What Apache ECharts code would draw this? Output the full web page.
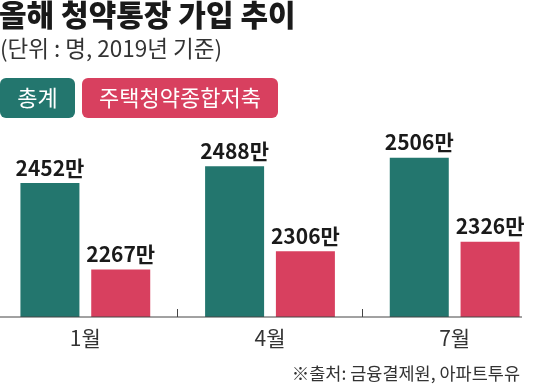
<!DOCTYPE html>
<html>
<head>
<meta charset="utf-8">
<script src="https://cdn.jsdelivr.net/npm/echarts@6/dist/echarts.min.js"></script>
<style>
html,body{margin:0;padding:0;background:#fff;}
#chart{width:540px;height:385px;}
</style>
</head>
<body>
<div id="chart"></div>
<script>
const titleText = '올해 청약통장 가입 추이';
const subtitleText = '(단위 : 명, 2019년 기준)';
const sourceText = '※출처: 금융결제원, 아파트투유';
const categories = ['1월', '4월', '7월'];
const seriesNames = ['총계', '주택청약종합저축'];
const totalValues = [2452, 2488, 2506];
const savingsValues = [2267, 2306, 2326];
const valueSuffix = '만';

const TEAL = '#23766e';
const PINK = '#d8405f';
const CJK = "'Noto Sans CJK KR', 'Noto Sans', sans-serif";

const chart = echarts.init(document.getElementById('chart'), null, {renderer: 'canvas'});

const labelOpt = {
  show: true,
  position: 'top',
  distance: 5,
  fontFamily: CJK,
  fontWeight: 'bold',
  fontSize: 21,
  color: '#1a1a1a',
  formatter: p => p.value + valueSuffix
};

function legendBox(x, w, color, name) {
  return {
    type: 'group', left: x, top: 78,
    children: [
      {type: 'rect', shape: {x: 0, y: 0, width: w, height: 40, r: 6}, style: {fill: color}},
      {type: 'text', x: w / 2, y: 20,
       style: {text: name, fill: '#fff', font: '22px ' + CJK, textAlign: 'center', textVerticalAlign: 'middle'}}
    ]
  };
}

chart.setOption({
  animation: false,
  backgroundColor: '#ffffff',
  title: [
    {
      text: titleText, left: -1, top: 0, padding: 0,
      textStyle: {fontFamily: CJK, fontWeight: 900, fontSize: 30, color: '#1a1a1a', lineHeight: 30}
    },
    {
      text: subtitleText, left: 0, top: 37, padding: 0,
      textStyle: {fontFamily: CJK, fontWeight: 'normal', fontSize: 22.5, color: '#333'}
    },
    {
      text: sourceText, right: 20, top: 365, padding: 0,
      textStyle: {fontFamily: CJK, fontWeight: 'normal', fontSize: 17.5, color: '#333'}
    }
  ],
  legend: {show: false, data: seriesNames},
  grid: {left: -7, right: -7, top: 100, bottom: 68, outerBoundsMode: 'none', containLabel: false},
  xAxis: {
    type: 'category',
    data: categories,
    boundaryGap: true,
    axisLine: {show: false},
    axisTick: {show: true, inside: true, length: 8, lineStyle: {color: '#444', width: 1}},
    axisLabel: {fontFamily: CJK, fontSize: 21, color: '#333', margin: 11}
  },
  yAxis: {
    type: 'value', min: 2165, max: 2630, show: false,
    splitLine: {show: false}
  },
  graphic: [
    legendBox(0, 75, TEAL, seriesNames[0]),
    legendBox(82, 196, PINK, seriesNames[1]),
    {
      type: 'line', z: 10,
      shape: {x1: 0, y1: 317, x2: 522, y2: 317},
      style: {stroke: '#444', lineWidth: 1}
    }
  ],
  series: [
    {name: seriesNames[0], type: 'bar', data: totalValues, barWidth: 59, barGap: '20%',
     itemStyle: {color: TEAL}, label: labelOpt},
    {name: seriesNames[1], type: 'bar', data: savingsValues, barWidth: 59, barGap: '20%',
     itemStyle: {color: PINK}, label: labelOpt}
  ]
});
</script>
</body>
</html>
